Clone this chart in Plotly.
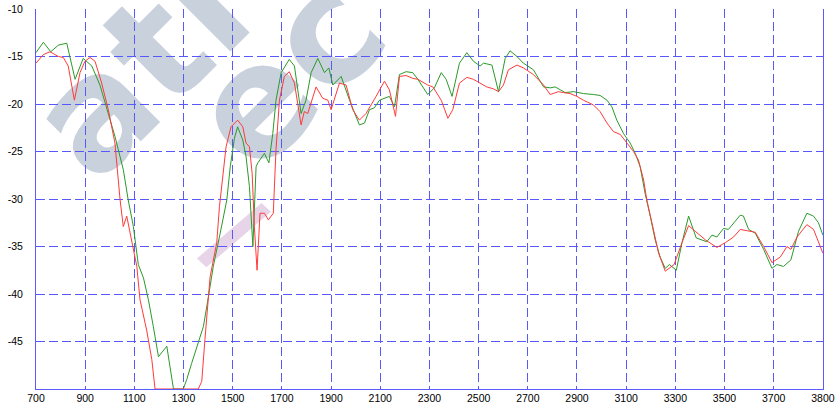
import plotly.graph_objects as go

# ---- data ----
green_x = [700, 730, 760, 791, 825, 859, 892, 927, 960, 994, 1021, 1055, 1075, 1096, 1116, 1137,
           1157, 1177, 1198, 1232, 1259, 1299, 1313, 1333, 1360, 1381, 1401, 1421, 1449, 1476,
           1490, 1507, 1520, 1541, 1554, 1568, 1582, 1595, 1602, 1629, 1647, 1663, 1676, 1697,
           1730, 1751, 1778, 1798, 1819, 1846, 1873, 1891, 1907, 1941, 1975, 2015, 2036, 2056,
           2076, 2097, 2137, 2158, 2178, 2205, 2232, 2253, 2293, 2320, 2348, 2368, 2392, 2422,
           2452, 2479, 2506, 2520, 2554, 2581, 2608, 2628, 2656, 2682, 2723, 2764, 2791, 2811,
           2832, 2852, 2886, 2926, 2967, 2994, 3022, 3042, 3062, 3089, 3116, 3137, 3157, 3177,
           3198, 3218, 3238, 3259, 3276, 3304, 3327, 3354, 3385, 3428, 3449, 3469, 3496, 3516,
           3564, 3577, 3598, 3625, 3659, 3693, 3713, 3740, 3770, 3801, 3835, 3862, 3882, 3900]
green_y = [-14.6, -13.5, -14.5, -13.8, -13.6, -17.4, -15.2, -16.0, -18.0, -21.1, -23.4, -26.9,
           -30.1, -32.9, -36.9, -38.3, -40.6, -43.4, -46.6, -45.5, -50.0, -50.0, -49.0, -47.3,
           -45.2, -43.4, -40.3, -37.1, -33.6, -30.1, -26.6, -23.6, -22.4, -23.8, -25.5, -28.7,
           -35.0, -26.6, -26.2, -25.2, -26.2, -23.1, -19.6, -16.7, -15.3, -16.0, -21.0, -19.6,
           -16.7, -15.2, -16.7, -16.2, -18.0, -17.1, -19.6, -22.2, -22.0, -20.6, -20.4, -19.6,
           -19.2, -20.3, -16.9, -16.6, -16.7, -17.4, -19.0, -18.3, -16.7, -17.4, -19.2, -15.7,
           -14.6, -15.5, -16.0, -15.7, -15.9, -18.7, -15.2, -14.4, -15.0, -15.7, -16.4, -18.2,
           -18.3, -18.2, -18.5, -18.8, -18.7, -18.9, -19.0, -19.1, -19.6, -20.3, -21.7, -23.1,
           -24.1, -25.2, -26.6, -29.4, -31.8, -34.3, -36.1, -37.3, -36.9, -37.5, -34.6, -31.8,
           -34.1, -34.5, -33.8, -34.0, -33.1, -33.2, -31.7, -31.8, -33.2, -33.6, -35.3, -37.3,
           -36.9, -37.1, -36.4, -33.4, -31.5, -31.8, -32.5, -33.8]

red_x = [700, 730, 757, 791, 811, 831, 856, 879, 899, 920, 940, 967, 994, 1021, 1042, 1055,
         1069, 1089, 1110, 1123, 1150, 1171, 1184, 1360, 1374, 1387, 1408, 1435, 1446, 1473,
         1493, 1520, 1541, 1554, 1568, 1579, 1588, 1599, 1611, 1629, 1645, 1665, 1676, 1690,
         1710, 1730, 1751, 1778, 1791, 1805, 1839, 1866, 1887, 1900, 1934, 1961, 1988, 2015,
         2042, 2083, 2117, 2137, 2162, 2178, 2205, 2232, 2253, 2293, 2314, 2348, 2375, 2395,
         2422, 2452, 2479, 2499, 2533, 2560, 2581, 2601, 2621, 2656, 2682, 2723, 2764, 2791,
         2825, 2845, 2872, 2900, 2926, 2967, 2994, 3022, 3048, 3076, 3103, 3130, 3150, 3171,
         3184, 3205, 3232, 3259, 3295, 3327, 3354, 3381, 3422, 3469, 3503, 3537, 3564, 3625,
         3659, 3693, 3727, 3754, 3770, 3795, 3835, 3862, 3900]
red_y = [-15.7, -14.8, -14.5, -15.0, -15.1, -16.0, -19.6, -16.7, -15.5, -15.1, -15.5, -17.8,
         -20.6, -24.1, -30.1, -32.9, -31.8, -34.3, -37.1, -40.6, -43.8, -46.9, -50.0, -50.0,
         -49.2, -44.8, -38.2, -34.6, -30.8, -24.5, -22.4, -21.7, -22.4, -24.1, -24.5, -27.3,
         -32.9, -37.5, -31.5, -31.5, -32.2, -31.5, -24.8, -19.6, -17.1, -16.6, -17.8, -22.2,
         -20.8, -21.0, -18.2, -19.4, -19.6, -20.6, -17.8, -18.0, -20.6, -21.7, -21.0, -19.2,
         -17.6, -18.5, -21.3, -17.1, -17.0, -17.3, -17.4, -18.0, -18.2, -19.6, -21.5, -20.6,
         -17.8, -17.2, -17.4, -17.7, -18.2, -18.4, -18.7, -18.0, -16.4, -15.9, -16.2, -16.9,
         -18.0, -19.0, -18.7, -18.8, -18.9, -19.2, -19.6, -20.1, -20.8, -22.0, -22.9, -23.2,
         -24.1, -25.0, -25.9, -28.0, -30.1, -32.5, -35.7, -37.6, -36.9, -34.6, -32.8, -33.4,
         -34.3, -35.1, -34.6, -34.0, -33.2, -33.5, -35.0, -36.7, -36.1, -35.0, -35.3, -34.0,
         -32.7, -33.2, -35.7]

x_tick_vals = [700, 900, 1100, 1300, 1500, 1700, 1900, 2100, 2300, 2500, 2700, 2900,
               3100, 3300, 3500, 3700, 3900]
x_tick_text = ["700", "900", "1100", "1300", "1500", "1700", "1900", "2100", "2300", "2500",
               "2700", "2900", "3100", "3300", "3500", "3700", "3800"]
y_tick_vals = [-45, -40, -35, -30, -25, -20, -15, -10]
y_tick_text = ["-45", "-40", "-35", "-30", "-25", "-20", "-15", "-10"]

watermark_line1 = "atl"
watermark_line2 = "ec"

# ---- figure ----
GRID = "#5858ff"
AXIS = "#5a5aff"

fig = go.Figure()
fig.add_trace(go.Scatter(x=green_x, y=green_y, mode="lines",
                         line=dict(color="#2a9a2a", width=1), hoverinfo="skip"))
fig.add_trace(go.Scatter(x=red_x, y=red_y, mode="lines",
                         line=dict(color="#ff3a3a", width=1), hoverinfo="skip"))

wm_color = "#c9d1dd"
wm_font = dict(family="DejaVu Sans", size=155, color=wm_color, weight="bold")
fig.add_shape(type="rect", xref="paper", yref="paper", x0=0.11, x1=0.132, y0=0.856, y1=0.878,
              line=dict(width=0), fillcolor="rgba(0,0,0,0)", layer="below",
              label=dict(text=watermark_line1, textangle=-45, textposition="middle center",
                         font=wm_font))
fig.add_shape(type="rect", xref="paper", yref="paper", x0=0.298, x1=0.32, y0=0.845, y1=0.867,
              line=dict(width=0), fillcolor="rgba(0,0,0,0)", layer="below",
              label=dict(text=watermark_line2, textangle=-45, textposition="middle center",
                         font=wm_font))
# pink stripe of the logo
fig.add_shape(type="path", xref="paper", yref="paper", layer="below",
              path="M 0.2045,0.3435 L 0.2865,0.4895 L 0.2985,0.4665 L 0.2165,0.3205 Z",
              line=dict(width=0), fillcolor="#e8d4e8")

fig.update_layout(
    width=835, height=403,
    margin=dict(l=36, r=12, t=9, b=14, autoexpand=False),
    paper_bgcolor="white", plot_bgcolor="white",
    showlegend=False,
    font=dict(family="Liberation Sans, Arial", size=10.5, color="#000000"),
)
fig.update_xaxes(range=[700, 3900.5], tickmode="array", tickvals=x_tick_vals, ticktext=x_tick_text,
                 showgrid=True, gridcolor=GRID, gridwidth=1, griddash="9px,4px",
                 showline=True, linecolor=AXIS, linewidth=1, mirror=False,
                 ticks="", zeroline=False, fixedrange=True, automargin=False,
                 ticklabelstandoff=-1)
fig.update_yaxes(range=[-50, -10], tickmode="array", tickvals=y_tick_vals, ticktext=y_tick_text,
                 showgrid=True, gridcolor=GRID, gridwidth=1, griddash="9px,4px",
                 showline=True, linecolor=AXIS, linewidth=1, mirror=True,
                 ticks="", zeroline=False, fixedrange=True, automargin=False,
                 ticklabelstandoff=10)

fig.write_html("out.html", config={"displayModeBar": False},
               post_script="document.body.style.margin='0';document.body.style.overflow='hidden';")
